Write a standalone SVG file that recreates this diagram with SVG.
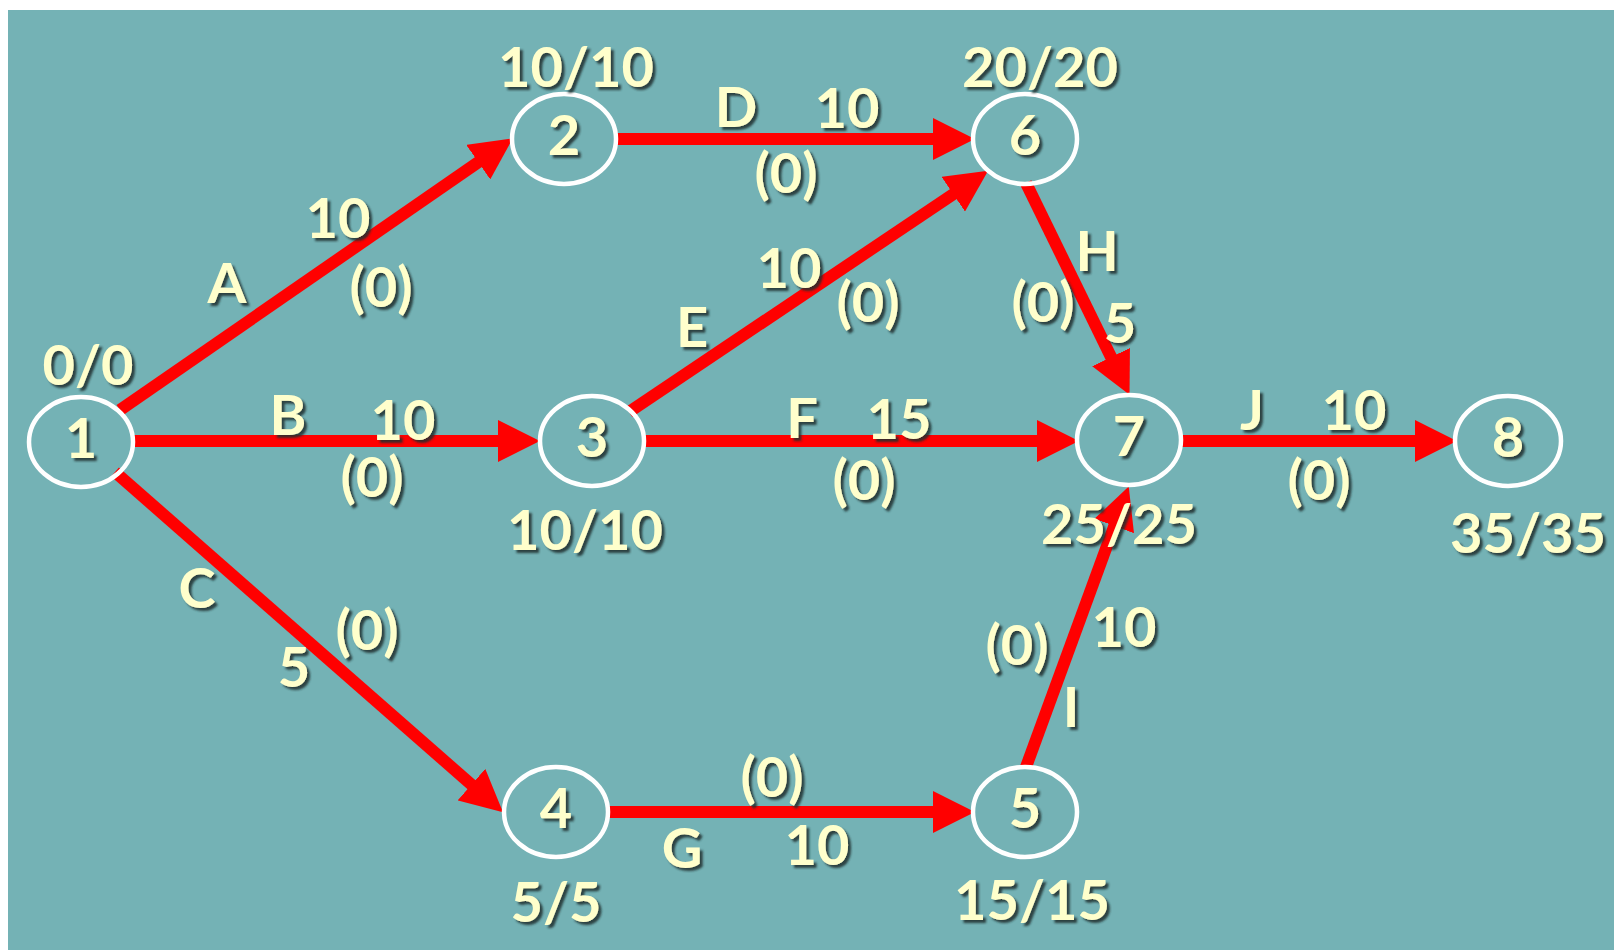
<svg xmlns="http://www.w3.org/2000/svg" width="1614" height="950" viewBox="0 0 1614 950">
<defs>
<style>
.bg{fill:#74B2B5}
.node{fill:none;stroke:#FFFFFF;stroke-width:4.5}
.edge{stroke:#FF0000;stroke-width:12;fill:none}
.t{font-family:Lato,"Open Sans","Liberation Sans",sans-serif;font-weight:bold;font-size:56px;fill:#FFFFCC;text-anchor:middle;filter:url(#sh)}
</style>
<filter id="sh" x="-20%" y="-20%" width="150%" height="150%">
<feDropShadow dx="3" dy="3" stdDeviation="1.2" flood-color="#1c2e2e" flood-opacity="0.85"/>
</filter>
<marker id="arr" markerUnits="userSpaceOnUse" markerWidth="42" markerHeight="42" refX="2" refY="20" orient="auto" viewBox="0 0 40 40">
<path d="M0,0 L40,20 L0,40 z" fill="#FF0000"/>
</marker>
</defs>
<rect x="0" y="0" width="1614" height="950" fill="#FFFFFF"/>
<rect class="bg" x="8" y="10" width="1606" height="940"/>
<g id="connectors">
<line class="edge" x1="120" y1="410" x2="480" y2="161" marker-end="url(#arr)"/>
<line class="edge" x1="134" y1="441" x2="500" y2="441" marker-end="url(#arr)"/>
<line class="edge" x1="115" y1="472" x2="473" y2="786" marker-end="url(#arr)"/>
<line class="edge" x1="617" y1="139" x2="935" y2="139" marker-end="url(#arr)"/>
<line class="edge" x1="629" y1="412" x2="955" y2="193" marker-end="url(#arr)"/>
<line class="edge" x1="645" y1="441" x2="1039" y2="441" marker-end="url(#arr)"/>
<line class="edge" x1="609" y1="812" x2="935" y2="812" marker-end="url(#arr)"/>
<line class="edge" x1="1026" y1="183" x2="1112" y2="359" marker-end="url(#arr)"/>
<line class="edge" x1="1026" y1="767" x2="1115" y2="524" marker-end="url(#arr)"/>
<line class="edge" x1="1181" y1="441" x2="1417" y2="441" marker-end="url(#arr)"/>
<text class="t" x="227" y="303">A</text>
<text class="t" x="338" y="238">10</text>
<text class="t" x="381" y="307">(0)</text>
<text class="t" x="288" y="435">B</text>
<text class="t" x="403" y="440">10</text>
<text class="t" x="372" y="497">(0)</text>
<text class="t" x="197" y="608">C</text>
<text class="t" x="367" y="650">(0)</text>
<text class="t" x="294" y="687">5</text>
<text class="t" x="736" y="127">D</text>
<text class="t" x="847" y="128">10</text>
<text class="t" x="786" y="193">(0)</text>
<text class="t" x="692" y="347">E</text>
<text class="t" x="789" y="288">10</text>
<text class="t" x="868" y="322">(0)</text>
<text class="t" x="802" y="438">F</text>
<text class="t" x="899" y="439">15</text>
<text class="t" x="864" y="500">(0)</text>
<text class="t" x="682" y="868">G</text>
<text class="t" x="772" y="797">(0)</text>
<text class="t" x="817" y="865">10</text>
<text class="t" x="1097" y="271">H</text>
<text class="t" x="1043" y="322">(0)</text>
<text class="t" x="1120" y="343">5</text>
<text class="t" x="1071" y="727">I</text>
<text class="t" x="1017" y="665">(0)</text>
<text class="t" x="1124" y="647">10</text>
<text class="t" x="1252" y="430">J</text>
<text class="t" x="1354" y="430">10</text>
<text class="t" x="1319" y="500">(0)</text>
</g>
<g id="node1">
<ellipse class="node" cx="81" cy="442" rx="52" ry="45"/>
<text class="t" x="81" y="458">1</text>
<text class="t" x="88" y="385">0/0</text>
</g>
<g id="node2">
<ellipse class="node" cx="564" cy="139" rx="52" ry="45"/>
<text class="t" x="564" y="155">2</text>
<text class="t" x="576" y="87">10/10</text>
</g>
<g id="node3">
<ellipse class="node" cx="592" cy="441" rx="52" ry="45"/>
<text class="t" x="592" y="457">3</text>
<text class="t" x="585" y="550">10/10</text>
</g>
<g id="node4">
<ellipse class="node" cx="556" cy="812" rx="52" ry="45"/>
<text class="t" x="556" y="828">4</text>
<text class="t" x="556" y="922">5/5</text>
</g>
<g id="node5">
<ellipse class="node" cx="1025" cy="812" rx="52" ry="45"/>
<text class="t" x="1025" y="828">5</text>
<text class="t" x="1032" y="920">15/15</text>
</g>
<g id="node6">
<ellipse class="node" cx="1025" cy="139" rx="52" ry="45"/>
<text class="t" x="1025" y="155">6</text>
<text class="t" x="1040" y="87">20/20</text>
</g>
<g id="node7">
<ellipse class="node" cx="1129" cy="440" rx="52" ry="45"/>
<text class="t" x="1129" y="456">7</text>
<text class="t" x="1119" y="544">25/25</text>
</g>
<g id="node8">
<ellipse class="node" cx="1508" cy="441" rx="53" ry="45"/>
<text class="t" x="1508" y="457">8</text>
<text class="t" x="1528" y="553">35/35</text>
</g>
</svg>
